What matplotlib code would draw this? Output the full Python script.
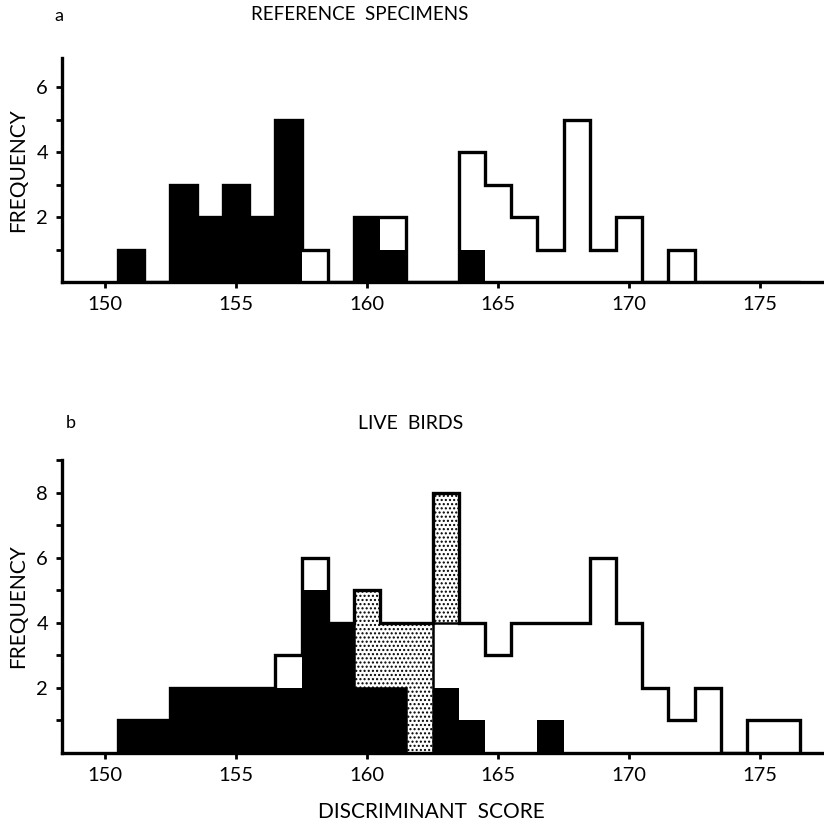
import numpy as np
import matplotlib.pyplot as plt

plt.rcParams['font.family'] = ['Lato', 'DejaVu Sans']
plt.rcParams['hatch.linewidth'] = 1.0

# discriminant score classes (bin centres, width 1)
scores = np.arange(151, 177)

# a: reference specimens
ref_black = [1,0,3,2,3,2,5,0,0,2,1,0,0,1,0,0,0,0,0,0,0,0,0,0,0,0]
ref_open  = [0,0,0,0,0,0,0,1,0,0,1,0,0,3,3,2,1,5,1,2,0,1,0,0,0,0]

# b: live birds
live_black   = [1,1,2,2,2,2,2,5,4,2,2,0,2,1,0,0,1,0,0,0,0,0,0,0,0,0]
live_open    = [0,0,0,0,0,0,1,1,0,0,0,0,2,3,3,4,3,4,6,4,2,1,2,0,1,1]
live_stipple = [0,0,0,0,0,0,0,0,0,3,2,4,4,0,0,0,0,0,0,0,0,0,0,0,0,0]

xticks = [150, 155, 160, 165, 170, 175]

fig = plt.figure(figsize=(8.24, 8.27), dpi=100)
ax1 = fig.add_axes([0.0752, 0.659, 0.925, 0.271])
ax2 = fig.add_axes([0.0752, 0.0895, 0.925, 0.354])

edges = np.append(scores - 0.5, scores[-1] + 0.5)


def style(ax, ymax):
    ax.set_xlim(148.36, 177.44)
    ax.set_ylim(0, ymax)
    for s in ['top', 'right']:
        ax.spines[s].set_visible(False)
    for s in ['left', 'bottom']:
        ax.spines[s].set_linewidth(2.4)
    ax.set_xticks(xticks)
    ax.set_yticks(np.arange(1, int(ymax) + 1))
    ax.set_yticklabels([str(v) if v % 2 == 0 else '' for v in range(1, int(ymax) + 1)])
    ax.tick_params(axis='both', direction='out', length=4, width=2, labelsize=14.5, pad=6)
    ax.set_ylabel('FREQUENCY', fontsize=15, labelpad=6)


# panel a
b1 = np.array(ref_black)
t1 = b1 + np.array(ref_open)
ax1.bar(scores, b1, width=1, color='black', linewidth=0)
ax1.stairs(t1, edges, color='black', linewidth=2.4, baseline=0)
style(ax1, 6.9)

# panel b
b2 = np.array(live_black)
o2 = np.array(live_open)
s2 = np.array(live_stipple)
ax2.bar(scores, b2, width=1, color='black', linewidth=0)
ax2.bar(scores[s2 > 0], s2[s2 > 0], bottom=(b2 + o2)[s2 > 0], width=1,
        facecolor='white', edgecolor='black', hatch='....', linewidth=0)
ax2.stairs(b2 + o2, edges, color='black', linewidth=1.8, baseline=0)
ax2.stairs(b2 + o2 + s2, edges, color='black', linewidth=2.4, baseline=0)
style(ax2, 9.0)

fig.text(0.066, 0.981, 'a', fontsize=13, ha='left', va='center')
fig.text(0.437, 0.983, 'REFERENCE  SPECIMENS', fontsize=13.5, ha='center', va='center')
fig.text(0.080, 0.488, 'b', fontsize=13, ha='left', va='center')
fig.text(0.498, 0.488, 'LIVE  BIRDS', fontsize=14, ha='center', va='center')
fig.text(0.524, 0.018, 'DISCRIMINANT  SCORE', fontsize=15, ha='center', va='center')

fig.savefig('out.png', dpi=100)
